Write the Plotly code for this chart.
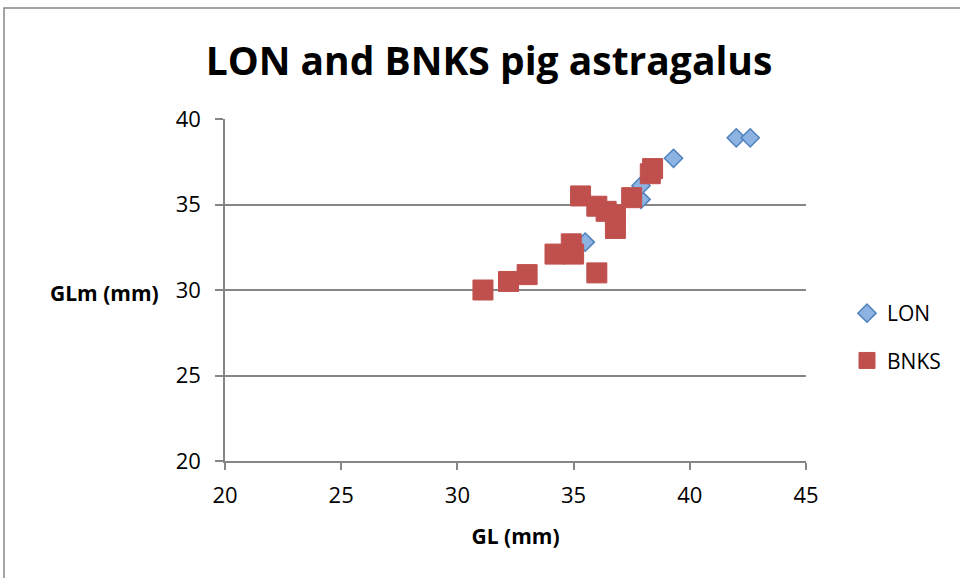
import plotly.graph_objects as go

lon_x = [35.5, 37.9, 37.9, 39.3, 42.0, 42.6]
lon_y = [32.8, 35.3, 36.1, 37.7, 38.9, 38.9]

bnks_x = [31.1, 32.2, 33.0, 34.2, 34.9, 35.0, 36.0, 35.3, 36.0, 36.4, 36.8, 36.8, 37.5, 38.3, 38.4]
bnks_y = [30.0, 30.5, 30.9, 32.1, 32.7, 32.1, 31.0, 35.5, 34.9, 34.6, 34.4, 33.6, 35.4, 36.8, 37.1]

x_ticks = [20, 25, 30, 35, 40, 45]
y_ticks = [20, 25, 30, 35, 40]

FONT = "Open Sans"

fig = go.Figure()
fig.add_trace(go.Scatter(
    x=lon_x, y=lon_y, mode="markers", name="LON", legendgroup="a",
    marker=dict(symbol="diamond", size=14, color="#8DB3E2",
                line=dict(color="#4F81BD", width=1.5)),
))
fig.add_trace(go.Scatter(
    x=bnks_x, y=bnks_y, mode="markers", name="BNKS", legendgroup="b",
    marker=dict(symbol="square", size=20, color="#C0504D",
                line=dict(color="#C0504D", width=1)),
))

L, R, T, B = 225, 154, 119, 117
W, H = 960 - L - R, 578 - T - B

fig.update_layout(
    width=960, height=578,
    margin=dict(l=L, r=R, t=T, b=B, autoexpand=False),
    paper_bgcolor="white", plot_bgcolor="white",
    font=dict(family=FONT, size=22, color="black"),
    title=dict(text="<b>LON and BNKS pig astragalus</b>", x=489 / 960, xanchor="center",
               y=1 - 61 / 578, yanchor="middle", font=dict(size=39, family=FONT)),
    xaxis=dict(range=[20, 45], tickvals=x_ticks, showgrid=False, zeroline=False,
               showline=True, linecolor="#868686", linewidth=1.5,
               ticks="outside", ticklen=7, tickcolor="#868686", tickwidth=1.5,
               tickfont=dict(size=22), ticklabelstandoff=7,
               title=dict(text="<b>GL (mm)</b>", font=dict(size=21), standoff=21)),
    yaxis=dict(range=[20, 40], tickvals=y_ticks, showgrid=True, gridcolor="#868686",
               gridwidth=1.5, zeroline=False, showline=True, linecolor="#868686",
               linewidth=1.5, ticks="outside", ticklen=8, tickcolor="#868686",
               tickwidth=1.5, tickfont=dict(size=22), ticklabelstandoff=10),
    legend=dict(x=(847 - L) / W, y=(461 - 293) / H, xanchor="left", yanchor="top",
                font=dict(size=21), traceorder="grouped", tracegroupgap=17,
                bgcolor="rgba(0,0,0,0)"),
    showlegend=True,
)

fig.add_annotation(text="<b>GLm (mm)</b>", xref="paper", yref="paper",
                   x=(104 - L) / W, y=(461 - 293) / H, showarrow=False,
                   font=dict(size=21, family=FONT), xanchor="center", yanchor="middle")

fig.add_shape(type="rect", xref="paper", yref="paper",
              x0=(4 - L) / W, x1=(970 - L) / W,
              y0=(461 - 590) / H, y1=(461 - 8) / H,
              line=dict(color="#868686", width=1.5), layer="below")

fig.write_html("out.html", config={"displayModeBar": False},
               post_script="document.body.style.margin='0';")
